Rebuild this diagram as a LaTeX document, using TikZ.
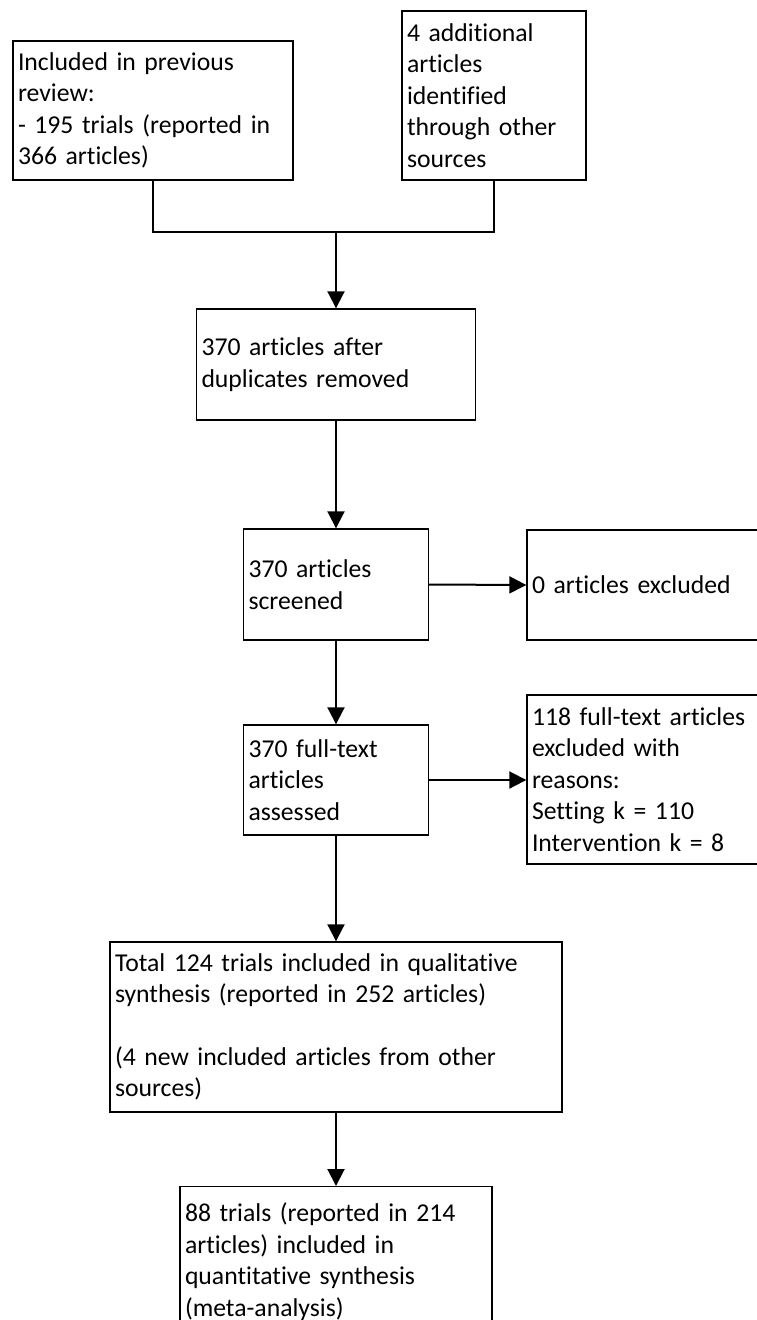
\documentclass[tikz,border=0pt]{standalone}
\usepackage{fontspec}
\setmainfont{Carlito}[RawFeature={-liga;-clig;-calt;-dlig}]
\usetikzlibrary{arrows.meta}
\begin{document}
\begin{tikzpicture}[x=1pt,y=-1pt,
  box/.style={draw, line width=1.4pt, rectangle, align=left, inner xsep=5pt, inner ysep=0pt,
    font=\fontsize{25.7pt}{31.4pt}\selectfont},
  conn/.style={line width=2pt},
  arr/.style={line width=2pt, -{Triangle[width=17pt,length=17pt]}}]
\useasboundingbox (0,0) rectangle (757,1320);
\fill[white] (0,0) rectangle (757,1320);
% boxes
\node[box, minimum width=280pt, minimum height=139pt, text width=270pt] (prev) at (153,110.5)
  {Included in previous\\review:\\- 195 trials (reported in\\366 articles)};
\node[box, minimum width=184pt, minimum height=169pt, text width=174pt] (other) at (494,95.5)
  {4 additional\\articles\\identified\\through other\\sources};
\node[box, minimum width=279pt, minimum height=111pt, text width=269pt] (dup) at (336,364.5)
  {370 articles after\\duplicates removed};
\node[box, minimum width=185pt, minimum height=111pt, text width=175pt] (scr) at (336,584.5)
  {370 articles\\screened};
\node[box, minimum width=243pt, minimum height=110pt, text width=233pt] (excl) at (648.5,585)
  {0 articles excluded};
\node[box, minimum width=185pt, minimum height=110pt, text width=175pt] (full) at (336,780)
  {370 full-text\\articles\\assessed};
\node[box, minimum width=243pt, minimum height=169pt, text width=233pt] (fexcl) at (648.5,779.5)
  {118 full-text articles\\excluded with\\reasons:\\Setting k = 110\\Intervention k = 8};
\node[box, minimum width=452pt, minimum height=170pt, text width=442pt] (qual) at (336,1027)
  {Total 124 trials included in qualitative\\synthesis (reported in 252 articles)\\\mbox{}\\(4 new included articles from other\\sources)};
\node[box, minimum width=312pt, minimum height=150pt, text width=302pt, anchor=north] (meta) at (336,1186)
  {88 trials (reported in 214\\articles) included in\\quantitative synthesis\\(meta-analysis)};
% connectors
\coordinate (j1) at (prev.south |- 0,232);
\coordinate (j2) at (other.south |- 0,232);
\coordinate (jm) at (dup.north |- 0,232);
\draw[conn] (prev.south) -- (j1) -- (j2) -- (other.south);
\draw[arr] (jm) -- (dup.north);
\draw[arr] (dup.south) -- (scr.north);
\draw[arr] (scr.east) -- (excl.west);
\draw[arr] (scr.south) -- (full.north);
\draw[arr] (full.east) -- (full.east -| fexcl.west);
\draw[arr] (full.south) -- (qual.north);
\draw[arr] (qual.south) -- (meta.north);
\end{tikzpicture}
\end{document}
